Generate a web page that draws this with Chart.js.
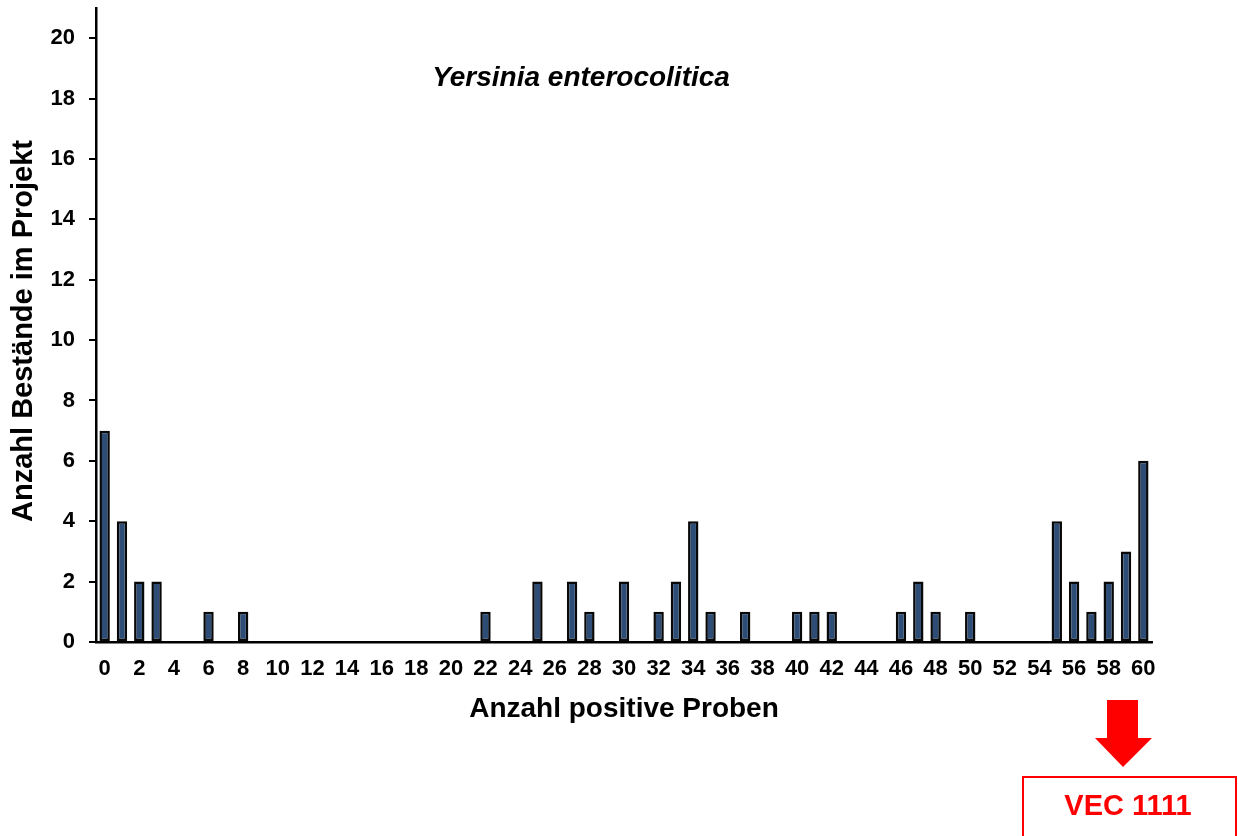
<!DOCTYPE html>
<html>
<head>
<meta charset="utf-8">
<title>Yersinia enterocolitica</title>
<script src="https://cdn.jsdelivr.net/npm/chart.js@4.4.1/dist/chart.umd.min.js"></script>
<style>
    body { margin: 0; background: #fff; }
    #wrap { width: 1238px; height: 836px; }
</style>
</head>
<body>
<div id="wrap"><canvas id="chart" width="1238" height="836"></canvas></div>
<script>
// Anzahl positive Proben (0..60)
const positives = Array.from({ length: 61 }, (_, i) => String(i));

// Anzahl Bestände je Anzahl positiver Proben
const herds = [
    7, 4, 2, 2, 0, 0, 1, 0, 1, 0,   // 0-9
    0, 0, 0, 0, 0, 0, 0, 0, 0, 0,   // 10-19
    0, 0, 1, 0, 0, 2, 0, 2, 1, 0,   // 20-29
    2, 0, 1, 2, 4, 1, 0, 1, 0, 0,   // 30-39
    1, 1, 1, 0, 0, 0, 1, 2, 1, 0,   // 40-49
    1, 0, 0, 0, 0, 4, 2, 1, 2, 3,   // 50-59
    6                               // 60
];

const yTicks = [0, 2, 4, 6, 8, 10, 12, 14, 16, 18, 20];

const FONT = "'Liberation Sans', Arial, sans-serif";

// Titles and the red VEC 1111 marker
const decorations = {
    id: 'decorations',
    afterDraw(chart) {
        const ctx = chart.ctx;
        ctx.save();

        ctx.fillStyle = '#000';
        ctx.font = 'italic bold 28px ' + FONT;
        ctx.textAlign = 'center';
        ctx.textBaseline = 'middle';
        ctx.fillText('Yersinia enterocolitica', 581, 78);

        // y axis title
        ctx.save();
        ctx.translate(24, 331);
        ctx.rotate(-Math.PI / 2);
        ctx.font = 'bold 29px ' + FONT;
        ctx.fillText('Anzahl Bestände im Projekt', 0, 0);
        ctx.restore();

        // arrow
        ctx.fillStyle = '#ff0000';
        ctx.beginPath();
        ctx.moveTo(1107, 700);
        ctx.lineTo(1138, 700);
        ctx.lineTo(1138, 738);
        ctx.lineTo(1152, 738);
        ctx.lineTo(1123, 767);
        ctx.lineTo(1095, 738);
        ctx.lineTo(1107, 738);
        ctx.closePath();
        ctx.fill();

        // box
        ctx.strokeStyle = '#ff0000';
        ctx.lineWidth = 2;
        ctx.strokeRect(1023, 777, 213, 70);
        ctx.font = 'bold 29px ' + FONT;
        ctx.fillText('VEC 1111', 1128, 807);

        ctx.restore();
    }
};

new Chart(document.getElementById('chart'), {
    type: 'bar',
    data: {
        labels: positives,
        datasets: [{
            data: herds.map(v => v || null),
            backgroundColor: '#2d4d76',
            borderColor: '#080808',
            borderWidth: 2.5,
            borderSkipped: false,
            barPercentage: 0.6,
            categoryPercentage: 1
        }]
    },
    options: {
        responsive: false,
        animation: false,
        layout: { padding: { top: 8, right: 86, bottom: 110, left: 0 } },
        plugins: {
            legend: { display: false },
            tooltip: { enabled: false }
        },
        scales: {
            x: {
                grid: { drawOnChartArea: false, drawTicks: false, color: '#000' },
                border: { color: '#000', width: 2.5 },
                ticks: {
                    autoSkip: false,
                    maxRotation: 0,
                    padding: 14,
                    color: '#000',
                    font: { family: FONT, size: 22, weight: 'bold' },
                    callback: (v, i) => (i % 2 === 0 ? positives[i] : '')
                },
                title: {
                    display: true,
                    text: 'Anzahl positive Proben',
                    color: '#000',
                    font: { family: FONT, size: 28, weight: 'bold' },
                    padding: { top: 0, bottom: 0 }
                },
                afterFit: scale => {
                    scale.height = 84;
                    scale.paddingLeft = 0;
                    scale.paddingRight = 0;
                }
            },
            y: {
                min: 0,
                max: 21,
                grid: { drawOnChartArea: false, drawTicks: true, tickLength: 7, color: '#000', lineWidth: 2 },
                border: { color: '#000', width: 2.5 },
                ticks: {
                    stepSize: 2,
                    padding: 14,
                    color: '#000',
                    font: { family: FONT, size: 22, weight: 'bold' }
                },
                afterBuildTicks: scale => {
                    scale.ticks = yTicks.map(v => ({ value: v }));
                },
                afterFit: scale => {
                    scale.width = 96;
                    scale.paddingTop = 0;
                    scale.paddingBottom = 0;
                }
            }
        }
    },
    plugins: [decorations]
});
</script>
</body>
</html>
